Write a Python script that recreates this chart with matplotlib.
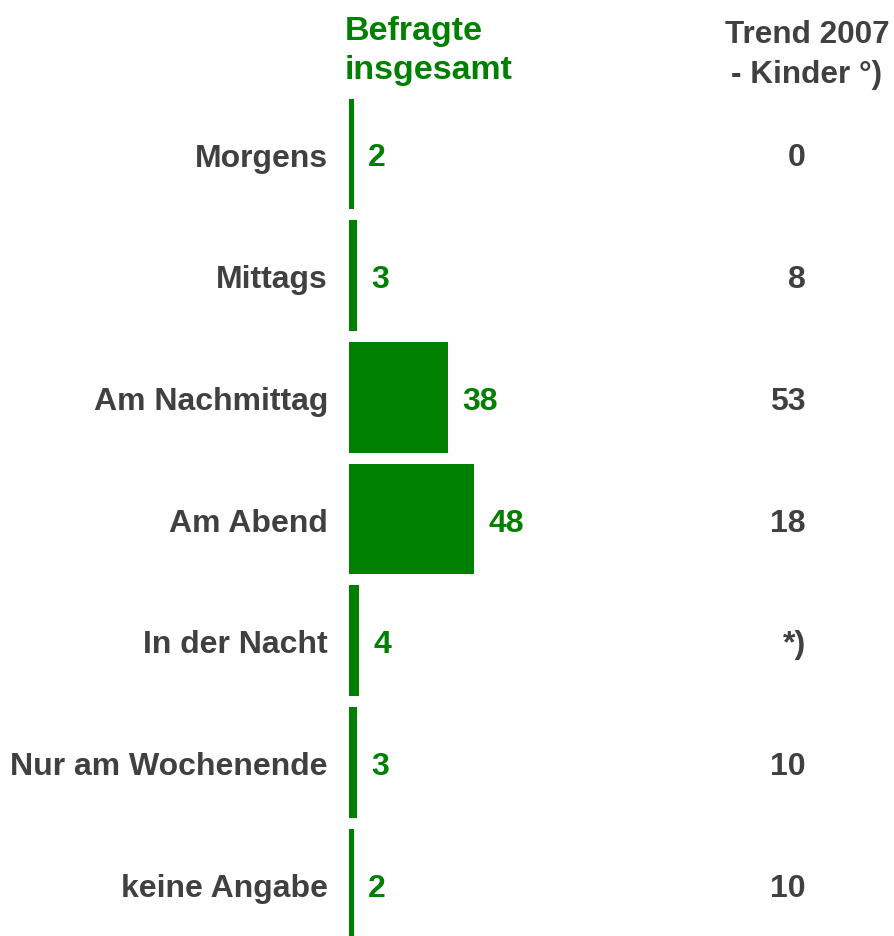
import matplotlib.pyplot as plt

plt.rcParams['font.family'] = ['Liberation Sans', 'DejaVu Sans']

categories = ['Morgens', 'Mittags', 'Am Nachmittag', 'Am Abend',
              'In der Nacht', 'Nur am Wochenende', 'keine Angabe']
befragte = [2, 3, 38, 48, 4, 3, 2]
trend_2007 = ['0', '8', '53', '18', '*)', '10', '10']

green = '#008000'
grey = '#404040'

W, H = 895, 937
fig = plt.figure(figsize=(W / 100, H / 100), dpi=100)

# axes geometry in pixels
x0 = 349
px_per_unit = 2.61
row0, pitch = 155, 121.7
top_px = row0 - pitch / 2
ax = fig.add_axes([x0 / W, 0, (W - x0) / W, (H - top_px) / H])
ax.set_xlim(0, (W - x0) / px_per_unit)
ax.set_ylim((H - row0) / pitch, -0.5)
ax.axis('off')

ypos = range(len(categories))
ax.barh(ypos, befragte, height=0.91, color=green, left=0)

fs = 23
off = 14 / px_per_unit
for i, (cat, v, t) in enumerate(zip(categories, befragte, trend_2007)):
    ax.text(-21 / px_per_unit, i, cat, ha='right', va='center_baseline',
            fontsize=fs, fontweight='bold', color=grey, clip_on=False)
    ax.text(v + off, i, str(v), ha='left', va='center_baseline',
            fontsize=fs, fontweight='bold', color=green)
    ax.text((806 - x0) / px_per_unit, i, t, ha='right', va='center_baseline',
            fontsize=fs, fontweight='bold', color=grey)

fig.text(345 / W, 1 - 51 / H, 'Befragte\ninsgesamt', ha='left', va='center',
         fontsize=24.5, fontweight='bold', color=green, linespacing=1.35)
fig.text(807 / W, 1 - 55 / H, 'Trend 2007\n- Kinder °)', ha='center', va='center',
         fontsize=22.7, fontweight='bold', color=grey, linespacing=1.4)

fig.savefig('out.png', dpi=100)
